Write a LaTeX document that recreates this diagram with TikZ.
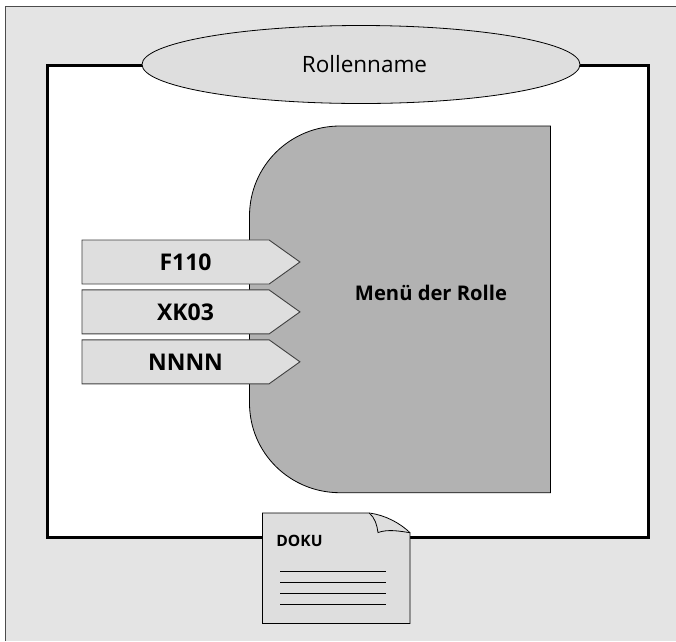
\documentclass[tikz,border=0pt]{standalone}
\usepackage{fontspec}
\setmainfont{Open Sans}
\usetikzlibrary{positioning}
\usetikzlibrary{shapes.geometric}
\usetikzlibrary{shapes.symbols}
\definecolor{pagegray}{gray}{0.895}
\definecolor{lightgray}{gray}{0.87}
\definecolor{menugray}{gray}{0.7}
\tikzset{
    tcode/.style={
        signal,
        signal to=east,
        signal pointer angle=71,
        draw=black!75,
        fill=lightgray,
        line width=0.9pt,
        minimum width=218pt,
        minimum height=44pt,
        inner sep=0pt,
        font=\fontsize{23pt}{25pt}\selectfont\bfseries
    }
}
\begin{document}
\begin{tikzpicture}[x=1pt,y=-1pt,line join=miter]
\useasboundingbox (0,0) rectangle (676,641);
\fill[pagegray] (5.5,6.5) rectangle (676,641);
\draw[draw=black!70,line width=0.8pt] (5.5,641) -- (5.5,6.5) -- (676,6.5);
% role frame
\draw[fill=white,line width=3pt] (47.5,65) rectangle (648,537);
% menu
\draw[fill=menugray,line width=0.8pt] (340,126) -- (550.5,126) -- (550.5,492.7) -- (340,492.7)
  .. controls (290,492.7) and (249.5,453) .. (249.5,403) -- (249.5,216)
  .. controls (249.5,166) and (290,126) .. (340,126) -- cycle;
\node[font=\fontsize{20.2pt}{22pt}\selectfont\bfseries] (menu) at (431,293) {Menü der Rolle};
% role name
\node[ellipse,draw=black,fill=lightgray,line width=0.8pt,minimum width=438pt,minimum height=78pt,
  inner sep=0pt,font=\fontsize{22.5pt}{25pt}\selectfont] (role) at (361,64.5) {\hspace*{7pt}Rollenname};
% transactions
\node[tcode,anchor=west] (f110) at (81.5,262) {\hspace*{20pt}F110};
\node[tcode,below=5pt of f110] (xk03) {\hspace*{20pt}XK03};
\node[tcode,below=5pt of xk03] (nnnn) {\hspace*{20pt}NNNN};
% document
\draw[fill=lightgray,line width=0.8pt] (262.5,513) -- (369.3,513)
  .. controls (385,515) and (400,523) .. (410,532.7) -- (410,623.5) -- (262.5,623.5) -- cycle;
\draw[fill=lightgray,line width=0.8pt] (369.3,513) .. controls (375,518) and (377,525) .. (378,532.5)
  .. controls (388,529) and (399,531) .. (410,532.7);
\node[font=\fontsize{15.6pt}{18pt}\selectfont\bfseries] (doku) at (299.5,540.5) {DOKU};
\foreach \y in {571,582.5,593.7,604.7}
  \draw[line width=0.8pt] (280,\y) -- (385.7,\y);
\end{tikzpicture}
\end{document}
